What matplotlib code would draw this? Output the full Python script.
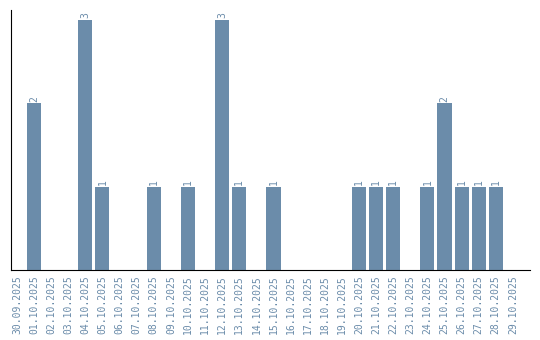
import matplotlib
matplotlib.use("Agg")
import matplotlib.pyplot as plt

dates = ["30.09.2025", "01.10.2025", "02.10.2025", "03.10.2025", "04.10.2025",
         "05.10.2025", "06.10.2025", "07.10.2025", "08.10.2025", "09.10.2025",
         "10.10.2025", "11.10.2025", "12.10.2025", "13.10.2025", "14.10.2025",
         "15.10.2025", "16.10.2025", "17.10.2025", "18.10.2025", "19.10.2025",
         "20.10.2025", "21.10.2025", "22.10.2025", "23.10.2025", "24.10.2025",
         "25.10.2025", "26.10.2025", "27.10.2025", "28.10.2025", "29.10.2025"]
counts = [0, 2, 0, 0, 3, 1, 0, 0, 1, 0,
          1, 0, 3, 1, 0, 1, 0, 0, 0, 0,
          1, 1, 1, 0, 1, 2, 1, 1, 1, 0]

bar_color = "#6b8caa"
mono = "DejaVu Sans Mono"

fig = plt.figure(figsize=(5.4, 3.4), dpi=100)
ax = fig.add_axes([11 / 540, 70 / 340, 519 / 540, 260 / 340])

x = list(range(len(dates)))
ax.bar(x, counts, width=0.82, color=bar_color)

for xi, v in zip(x, counts):
    if v > 0:
        ax.text(xi, v + 0.02, str(v), rotation=90, ha="center", va="bottom",
                fontsize=7, color=bar_color, family=mono)

ax.set_xlim(-0.35, 30.0)
ax.set_ylim(0, 3.12)
ax.set_xticks(x)
ax.set_xticklabels(dates, rotation=90, fontsize=7, color=bar_color, family=mono)
ax.set_yticks([])
ax.tick_params(axis="x", length=0, pad=4)
ax.spines["top"].set_visible(False)
ax.spines["right"].set_visible(False)

fig.savefig("out.png", dpi=100)
